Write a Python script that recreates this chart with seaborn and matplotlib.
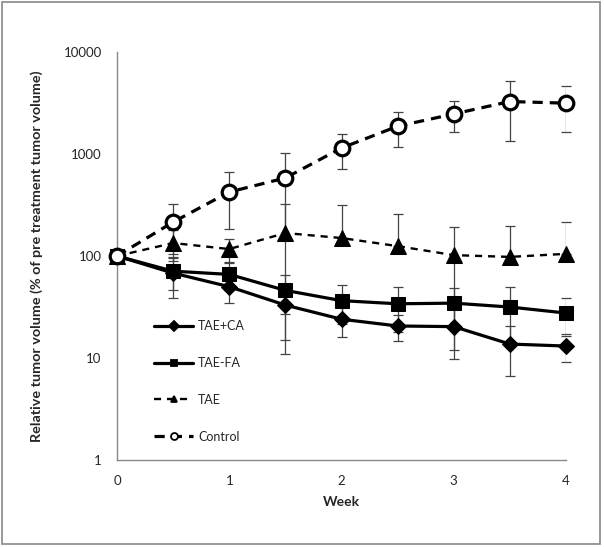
import numpy as np
import pandas as pd
import matplotlib
matplotlib.use('Agg')
import matplotlib.pyplot as plt
import seaborn as sns
from matplotlib.patches import Rectangle

weeks = [0, 0.5, 1, 1.5, 2, 2.5, 3, 3.5, 4]
tae_ca = [100, 68, 50, 33, 24, 20.6, 20.3, 13.7, 13.1]
tae_ca_sd = [0, 29, 15, 18, 8, 6, 10.5, 7, 4]
tae_fa = [100, 71, 66, 46, 36.5, 34, 34.5, 31.6, 27.6]
tae_fa_sd = [0, 25, 20, 19, 15, 16, 14, 18, 11]
tae = [100, 134, 117, 168, 150, 125, 102, 98, 105]
tae_sd = [0, 45, 30, 157, 166, 133, 90, 99, 110]
control = [100, 215, 424, 582, 1145, 1870, 2470, 3270, 3150]
control_sd = [0, 110, 240, 440, 425, 710, 830, 1930, 1490]

series = [
    ('TAE+CA', tae_ca, tae_ca_sd, dict(marker='D', markersize=8, markerfacecolor='black',
                                       linestyle='-', linewidth=2.3)),
    ('TAE-FA', tae_fa, tae_fa_sd, dict(marker='s', markersize=10, markerfacecolor='black',
                                       linestyle='-', linewidth=2.3)),
    ('TAE', tae, tae_sd, dict(marker='^', markersize=11, markerfacecolor='black',
                              linestyle=(0, (3, 2.5)), linewidth=1.7)),
    ('Control', control, control_sd, dict(marker='o', markersize=10.5, markerfacecolor='white',
                                          markeredgewidth=2.3, linestyle=(0, (3.2, 2.2)),
                                          linewidth=2.3)),
]

sns.set_style('white')
plt.rcParams['font.family'] = ['Lato', 'DejaVu Sans']
plt.rcParams['font.size'] = 9

fig = plt.figure(figsize=(6.04, 5.47), dpi=100)
ax = fig.add_axes([117 / 604, 1 - 460 / 547, (566 - 117) / 604, (460 - 52) / 547])
fig.patches.append(Rectangle((0.004, 0.006), 0.99, 0.99, transform=fig.transFigure,
                             fill=False, edgecolor='#888888', linewidth=1.2))

for name, vals, sd, style in series:
    vals = np.array(vals, dtype=float)
    sd = np.array(sd, dtype=float)
    # excel skips the lower bar when it would fall below zero on a log axis
    lower = np.where(vals - sd > 0, sd, 0)
    ax.errorbar(weeks, vals, yerr=[lower, sd], fmt='none', ecolor='#444444',
                elinewidth=0.9, capsize=3.5, capthick=0.9, zorder=1)
    df = pd.DataFrame({'week': weeks, 'value': vals})
    sns.lineplot(data=df, x='week', y='value', ax=ax, color='black',
                 markeredgecolor='black', label=name, zorder=3, **style)

ax.set_yscale('log')
ax.set_ylim(1, 10000)
ax.set_xlim(0, 4)
ax.set_yticks([1, 10, 100, 1000, 10000])
ax.set_yticklabels(['1', '10', '100', '1000', '10000'])
ax.yaxis.set_minor_locator(matplotlib.ticker.NullLocator())
ax.set_xticks([0, 1, 2, 3, 4])
ax.set_xticklabels(['0', '1', '2', '3', '4'])
for s in ['top', 'right']:
    ax.spines[s].set_visible(False)
for s in ['left', 'bottom']:
    ax.spines[s].set_color('#888888')
    ax.spines[s].set_linewidth(1.0)
ax.tick_params(axis='both', which='major', direction='out', length=5, width=1,
               color='#888888', labelsize=9.5, pad=6)
ax.set_xlabel('Week', fontweight='bold', fontsize=10, labelpad=6)
ax.set_ylabel('Relative tumor volume (% of pre treatment tumor volume)',
              fontweight='bold', fontsize=10.4, labelpad=15)
for ln in ax.lines:
    ln.set_clip_on(False)

leg = ax.legend(loc='upper left', bbox_to_anchor=(0.058, 0.37), frameon=False,
                labelspacing=1.98, handlelength=3.1, handletextpad=0.4, fontsize=9)
for h in leg.legend_handles:
    h.set_markersize(5)
    h.set_markeredgewidth(1.3)

fig.savefig('out.png', dpi=100)
